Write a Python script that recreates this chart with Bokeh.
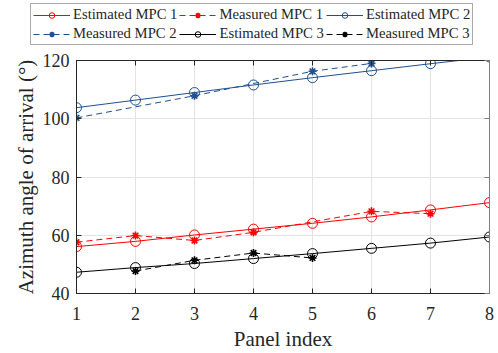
from bokeh.plotting import figure
from bokeh.layouts import column
from bokeh.models import Legend, LegendItem, LinearAxis, FixedTicker
from bokeh.embed import file_html
from bokeh.resources import INLINE

# Data
panel_all = [1, 2, 3, 4, 5, 6, 7, 8]
est_mpc1 = [56.1, 57.9, 60.1, 62.1, 64.1, 66.3, 68.7, 71.2]
est_mpc2 = [103.8, 106.4, 109.0, 111.6, 114.1, 116.5, 118.9, 121.2]
est_mpc3 = [47.3, 48.9, 50.3, 52.0, 53.7, 55.5, 57.3, 59.4]

meas1_x = [1, 2, 3, 4, 6, 7]
meas_mpc1 = [57.6, 59.9, 58.2, 61.0, 68.2, 67.4]
meas2_x = [1, 3, 5, 6]
meas_mpc2 = [100.3, 107.9, 116.3, 119.0]
meas3_x = [2, 3, 4, 5]
meas_mpc3 = [47.7, 51.4, 53.9, 52.2]

labels = ["Estimated MPC 1", "Measured MPC 1", "Estimated MPC 2",
          "Measured MPC 2", "Estimated MPC 3", "Measured MPC 3"]

x_ticks = [1, 2, 3, 4, 5, 6, 7, 8]
y_ticks = [40, 60, 80, 100, 120]

RED = "#ff0000"
BLUE = "#1f4f8f"
BLACK = "#000000"
FONT = "Liberation Serif"
TXT = "#262626"

# ---------- main plot ----------
p = figure(width=494, height=307, x_range=(1, 8), y_range=(40, 120),
           output_backend="svg", toolbar_location=None,
           min_border_left=76, min_border_right=5, min_border_bottom=10,
           min_border_top=14)
p.outline_line_color = "#262626"
p.outline_line_alpha = 1.0

def series(fig, x, y, color, dash, marker, size):
    l = fig.line(x, y, line_color=color, line_width=1, line_dash=dash)
    if marker == "circle":
        s = fig.scatter(x, y, marker="circle", size=size, fill_color=None,
                        line_color=color, line_width=1)
    else:
        s = fig.scatter(x, y, marker="asterisk", size=size,
                        line_color=color, line_width=1.6)
    return [l, s]

specs = [
    (panel_all, est_mpc1, RED, "solid", "circle", 10),
    (meas1_x, meas_mpc1, RED, "6 4", "asterisk", 8),
    (panel_all, est_mpc2, BLUE, "solid", "circle", 10),
    (meas2_x, meas_mpc2, BLUE, "6 4", "asterisk", 8),
    (panel_all, est_mpc3, BLACK, "solid", "circle", 10),
    (meas3_x, meas_mpc3, BLACK, "6 4", "asterisk", 8),
]
for s in specs:
    series(p, *s)

for ax in (p.xaxis[0], p.yaxis[0]):
    ax.axis_line_color = TXT
    ax.major_tick_line_color = TXT
    ax.major_tick_in = 5
    ax.major_tick_out = 0
    ax.minor_tick_line_color = None
    ax.major_label_text_font = FONT
    ax.major_label_text_font_size = "18px"
    ax.major_label_text_color = TXT
    ax.axis_label_text_font = FONT
    ax.axis_label_text_font_size = "21px"
    ax.axis_label_text_font_style = "normal"
    ax.axis_label_text_color = TXT

p.xaxis.ticker = FixedTicker(ticks=x_ticks)
p.yaxis.ticker = FixedTicker(ticks=y_ticks)
p.xaxis.axis_label = "Panel index"
p.yaxis.axis_label = "Azimuth angle of arrival (°)"
p.xaxis.major_label_standoff = 13
p.xaxis.axis_label_standoff = 4
p.yaxis.major_label_standoff = 7
p.yaxis.axis_label_standoff = 2

p.xgrid.ticker = FixedTicker(ticks=x_ticks)
p.ygrid.ticker = FixedTicker(ticks=y_ticks)
p.grid.grid_line_color = "#e3e3e3"
p.grid.grid_line_width = 1

top = LinearAxis(ticker=FixedTicker(ticks=x_ticks),
                 major_label_overrides={t: "" for t in x_ticks},
                 major_label_standoff=0, major_tick_in=5, major_tick_out=0,
                 minor_tick_line_color=None, axis_line_color=TXT,
                 major_tick_line_color=TXT)
right = LinearAxis(ticker=FixedTicker(ticks=y_ticks),
                   major_label_overrides={t: "" for t in y_ticks},
                   major_label_standoff=0, major_tick_in=5, major_tick_out=0,
                   minor_tick_line_color=None, axis_line_color="#7f7f7f",
                   major_tick_line_color="#7f7f7f")
p.add_layout(top, "above")
p.add_layout(right, "right")

# ---------- legend strip (its renderers sit outside the visible range) ----------
lf = figure(width=494, height=46, x_range=(-20, -19), y_range=(-20, -19),
            output_backend="svg", toolbar_location=None,
            min_border=0, x_axis_type=None, y_axis_type=None)
lf.frame_align = False
lf.grid.visible = False
lf.outline_line_color = None
items = []
for lab, s in zip(labels, specs):
    rs = series(lf, *s)
    items.append(LegendItem(label=lab, renderers=rs))

legend = Legend(items=items, orientation="horizontal", ncols=3,
                location=(30, 1))
legend.label_text_font = FONT
legend.label_text_font_size = "14.7px"
legend.label_text_color = TXT
legend.glyph_width = 37
legend.glyph_height = 14
legend.label_standoff = 3
legend.label_height = 14
legend.spacing = 2
legend.padding = 2
legend.margin = 0
legend.border_line_color = "#555555"
legend.border_line_width = 1
legend.background_fill_color = "white"
legend.background_fill_alpha = 1
lf.add_layout(legend)

layout = column(lf, p, spacing=0)
open("out.html", "w").write(file_html(layout, INLINE))
